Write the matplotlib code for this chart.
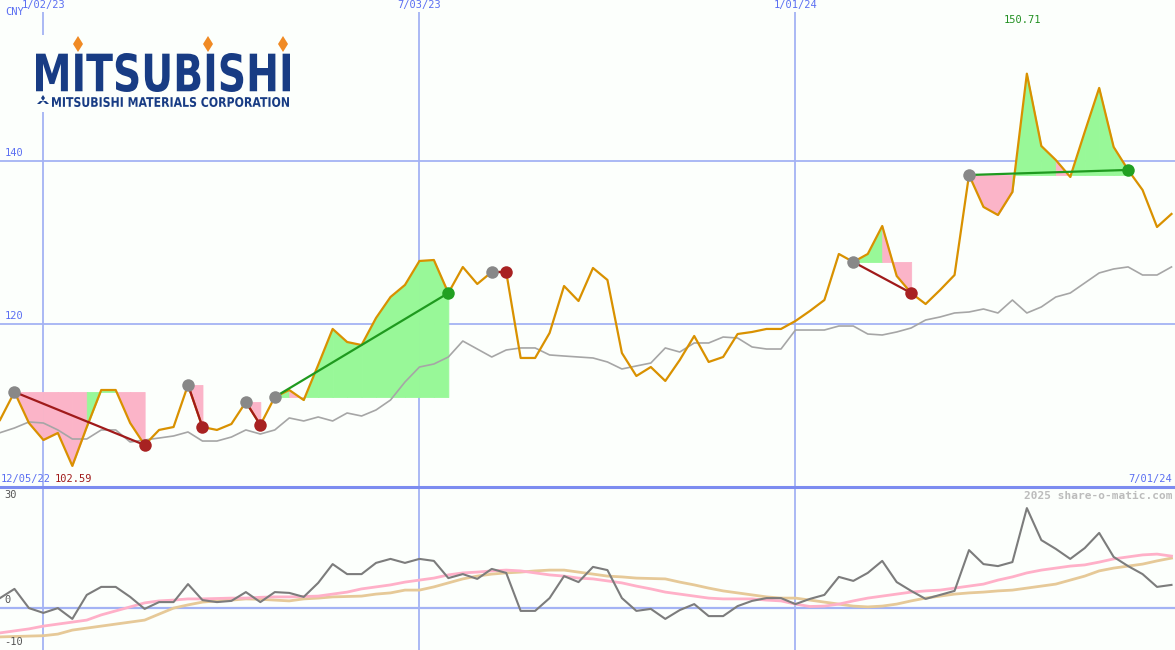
import numpy as np
import pandas as pd
import matplotlib
matplotlib.use('Agg')
import matplotlib.pyplot as plt
import matplotlib.transforms as mtrans
from matplotlib.textpath import TextPath
from matplotlib.font_manager import FontProperties
from matplotlib.patches import PathPatch, Polygon, Rectangle

# weekly closes, CNY
dates = pd.date_range('2022-12-12', periods=82, freq='7D')
price = [108.22, 111.66, 107.85, 105.77, 106.63, 102.59, 107.36, 111.90, 111.90, 107.85,
         105.15, 107.00, 107.36, 112.52, 107.36, 107.00, 107.73, 110.43, 107.61, 111.04,
         111.90, 110.67, 114.97, 119.39, 117.79, 117.42, 120.74, 123.31, 124.79, 127.73,
         127.85, 123.80, 126.99, 124.91, 126.38, 126.38, 115.83, 115.83, 118.90, 124.66,
         122.82, 126.87, 125.40, 116.44, 113.62, 114.72, 113.01, 115.58, 118.53, 115.34,
         115.95, 118.77, 119.02, 119.39, 119.39, 120.37, 121.60, 122.94, 128.59, 127.61,
         128.59, 132.02, 125.89, 123.80, 122.45, 124.17, 126.01, 138.28, 134.36, 133.37,
         136.20, 150.71, 141.84, 140.12, 138.04, 143.56, 148.96, 141.72, 138.90, 136.44,
         131.90, 133.50]
avg = [106.66, 107.24, 107.98, 107.85, 107.00, 105.89, 105.89, 107.00, 107.00, 105.52,
       105.77, 106.01, 106.26, 106.75, 105.64, 105.64, 106.13, 107.00, 106.50, 107.00,
       108.47, 108.10, 108.59, 108.10, 109.08, 108.71, 109.45, 110.67, 112.88, 114.72,
       115.09, 115.95, 117.91, 116.93, 115.95, 116.81, 117.06, 117.06, 116.20, 116.07,
       115.95, 115.83, 115.34, 114.48, 114.85, 115.21, 117.06, 116.56, 117.67, 117.67,
       118.40, 118.28, 117.18, 116.93, 116.93, 119.26, 119.26, 119.26, 119.75, 119.75,
       118.77, 118.65, 119.02, 119.51, 120.49, 120.86, 121.35, 121.47, 121.84, 121.35,
       122.94, 121.35, 122.09, 123.31, 123.80, 125.03, 126.26, 126.75, 127.00, 126.01,
       126.01, 127.00]

# lower panel oscillator
osc = [2.4, 4.7, -0.1, -1.3, -0.1, -2.8, 3.2, 5.2, 5.2, 2.7,
       -0.3, 1.4, 1.4, 5.9, 1.9, 1.4, 1.7, 3.9, 1.4, 3.9,
       3.7, 2.7, 6.2, 10.9, 8.4, 8.4, 11.2, 12.2, 11.2, 12.2,
       11.7, 7.4, 8.4, 7.2, 9.7, 8.7, -0.8, -0.8, 2.4, 7.9,
       6.4, 10.2, 9.4, 2.4, -0.8, -0.3, -2.8, -0.6, 0.9, -2.1,
       -2.1, 0.4, 1.7, 2.4, 2.4, 0.9, 2.2, 3.2, 7.7, 6.7,
       8.7, 11.7, 6.4, 4.2, 2.2, 3.2, 4.2, 14.4, 10.9, 10.4,
       11.4, 24.9, 16.9, 14.7, 12.2, 14.9, 18.7, 12.7, 10.4, 8.4,
       5.2, 5.7]
osc_fast = [-6.3, -5.8, -5.3, -4.6, -4.1, -3.6, -3.1, -1.8, -0.8, 0.2,
            1.2, 1.7, 1.9, 2.2, 2.2, 2.3, 2.4, 2.4, 2.6, 2.7,
            2.7, 2.8, 2.9, 3.4, 3.9, 4.7, 5.2, 5.7, 6.4, 6.9,
            7.4, 8.2, 8.7, 8.9, 9.2, 9.4, 9.2, 8.7, 8.2, 7.9,
            7.4, 7.2, 6.7, 6.2, 5.4, 4.7, 3.9, 3.4, 2.9, 2.4,
            2.2, 2.2, 2.2, 1.9, 1.7, 0.9, 0.3, 0.4, 0.9, 1.7,
            2.4, 2.9, 3.4, 3.9, 4.2, 4.4, 4.9, 5.4, 5.9, 6.9,
            7.7, 8.7, 9.4, 9.9, 10.4, 10.7, 11.4, 12.2, 12.7, 13.2,
            13.4, 12.9]
osc_slow = [-7.3, -7.2, -7.1, -7.0, -6.6, -5.6, -5.1, -4.6, -4.1, -3.6,
            -3.1, -1.6, -0.1, 0.7, 1.4, 1.7, 1.9, 2.2, 2.1, 1.9,
            1.7, 2.2, 2.4, 2.7, 2.8, 2.9, 3.4, 3.7, 4.4, 4.4,
            5.2, 6.2, 7.2, 7.9, 8.4, 8.7, 8.9, 9.2, 9.4, 9.4,
            8.9, 8.4, 7.9, 7.7, 7.4, 7.3, 7.2, 6.4, 5.7, 4.9,
            4.2, 3.7, 3.2, 2.7, 2.4, 2.4, 1.9, 1.4, 0.9, 0.4,
            0.2, 0.4, 0.9, 1.7, 2.4, 2.9, 3.4, 3.7, 3.9, 4.2,
            4.4, 4.9, 5.4, 5.9, 6.9, 7.9, 9.2, 9.9, 10.4, 10.9,
            11.7, 12.4]

# signals: (start week, end week, result)
signals = [(1, 10, 'down'), (13, 14, 'down'), (17, 18, 'down'), (19, 31, 'up'),
           (34, 35, 'down'), (59, 63, 'down'), (67, 78, 'up')]

grid_dates = ['2023-01-02', '2023-07-03', '2024-01-01']
grid_labels = ['1/02/23', '7/03/23', '1/01/24']

BG = '#fcfffc'
BLUE = '#5b6ff2'
GRID = '#a4b3f4'
ORANGE = '#d99100'
FS = 7.5

W, H = 1175, 650
fig = plt.figure(figsize=(W / 100, H / 100), dpi=100, facecolor=BG)
ax = fig.add_axes([0, 163 / H, 1, 487 / H])
ax2 = fig.add_axes([0, 0, 1, 163 / H])

x0 = pd.Timestamp('2022-12-12')
x1 = x0 + pd.Timedelta(days=568.7)
for a in (ax, ax2):
    a.set_facecolor(BG)
    a.set_xlim(x0, x1)
    a.set_xticks([])
    a.set_yticks([])
    for sp in a.spines.values():
        sp.set_visible(False)
    for d in grid_dates:
        a.axvline(pd.Timestamp(d), color=GRID, lw=1.3, zorder=0)

ax.set_ylim(100.0, 159.75)
ax2.set_ylim(-10.575, 30.175)
for v in (120, 140):
    ax.axhline(v, color=GRID, lw=1.3, zorder=0)
ax2.axhline(0, color=GRID, lw=1.6, zorder=0)

mono = 'DejaVu Sans Mono'
tr_top = mtrans.blended_transform_factory(ax.transData, ax.transAxes)
for d, lab in zip(grid_dates, grid_labels):
    ax.text(pd.Timestamp(d), 0.999, lab, transform=tr_top, ha='center', va='top',
            color=BLUE, fontsize=FS, family=mono, zorder=3,
            bbox=dict(facecolor=BG, edgecolor='none', pad=1.2))
tr_y = mtrans.blended_transform_factory(ax.transAxes, ax.transData)
for v in (120, 140):
    ax.text(0.004, v + 0.4, str(v), transform=tr_y, ha='left', va='bottom',
            color=BLUE, fontsize=FS, family=mono)

# shaded signal areas
for s, e, res in signals:
    lvl = price[s]
    for k in range(s, e):
        col = '#98f898' if price[k + 1] >= lvl else '#fbb4c8'
        ax.fill_between(dates[k:k + 2], price[k:k + 2], lvl, facecolor=col,
                        edgecolor=col, lw=0.6, zorder=1)

ax.plot(dates, avg, color='#a6a6a6', lw=1.2, zorder=2)
ax.plot(dates, price, color=ORANGE, lw=1.6, zorder=3)

for s, e, res in signals:
    c_line = '#1f9a1f' if res == 'up' else '#a01a1a'
    c_dot = '#22a022' if res == 'up' else '#a82222'
    ax.plot([dates[s], dates[e]], [price[s], price[e]], color=c_line, lw=1.6, zorder=4)
    ax.plot(dates[s], price[s], 'o', color='#888888', ms=9, mec='none', zorder=5)
    ax.plot(dates[e], price[e], 'o', color=c_dot, ms=9, mec='none', zorder=5)

ax2.plot(dates, osc_slow, color='#e6c998', lw=2, zorder=2)
ax2.plot(dates, osc_fast, color='#ffb0c8', lw=2, zorder=2)
ax2.plot(dates, osc, color='#7c7c7c', lw=1.5, zorder=3)

tr_y2 = mtrans.blended_transform_factory(ax2.transAxes, ax2.transData)
ax2.text(0.004, 29.4, '30', transform=tr_y2, ha='left', va='top', color='#555555',
         fontsize=FS, family=mono)
ax2.text(0.004, 0.6, '0', transform=tr_y2, ha='left', va='bottom', color='#555555',
         fontsize=FS, family=mono)
ax2.text(0.004, -9.8, '-10', transform=tr_y2, ha='left', va='bottom', color='#555555',
         fontsize=FS, family=mono)

# panel separator
fig.add_artist(plt.Line2D([0, 1], [163 / H, 163 / H], color='#7c8cf0', lw=2.2))


def px(x, y):
    return x / W, 1 - y / H


fig.text(*px(5, 12), 'CNY', color=BLUE, fontsize=FS, family=mono, va='center')
fig.text(*px(1, 479), '12/05/22', color=BLUE, fontsize=FS, family=mono, va='center')
fig.text(*px(55, 479), '102.59', color='#a01a1a', fontsize=FS, family=mono, va='center')
fig.text(*px(1172, 479), '7/01/24', color=BLUE, fontsize=FS, family=mono, va='center',
         ha='right')
fig.text(*px(1022, 20), '150.71', color='#229022', fontsize=FS, family=mono,
         va='center', ha='center')
fig.text(*px(1172, 496), '2025 share-o-matic.com', color='#bcbcbc', fontsize=8,
         family=mono, weight='bold', va='center', ha='right')

# logo
fig.add_artist(Rectangle(px(30, 112), 270 / W, 77 / H, transform=fig.transFigure,
                         facecolor=BG, edgecolor='none', zorder=4))
NAVY = '#183c84'


def fit_text(s, xa, xb, ya, yb, color):
    tp = TextPath((0, 0), s, size=10, prop=FontProperties(family='DejaVu Sans', weight='bold'))
    bb = tp.get_extents()
    sx = (xb - xa) / bb.width / W
    sy = (yb - ya) / bb.height / H
    t = mtrans.Affine2D().translate(-bb.x0, -bb.y0).scale(sx, sy).translate(xa / W, 1 - yb / H)
    fig.add_artist(PathPatch(tp, transform=t + fig.transFigure, facecolor=color,
                             edgecolor='none', zorder=5))


fit_text('MITSUBISHI', 36, 290, 53, 92, NAVY)
fit_text('MITSUBISHI MATERIALS CORPORATION', 52, 289, 97, 107, NAVY)
for cx in (78, 208, 283):
    pts = [px(cx, 36), px(cx + 5, 44), px(cx, 52), px(cx - 5, 44)]
    fig.add_artist(Polygon(pts, closed=True, transform=fig.transFigure,
                           facecolor='#f08a24', edgecolor='none', zorder=5))
for pts in ([(43, 95), (45, 98), (43, 101), (41, 98)],
            [(43, 101), (40, 101), (37, 104), (40, 104)],
            [(43, 101), (46, 101), (49, 104), (46, 104)]):
    fig.add_artist(Polygon([px(a, b) for a, b in pts], closed=True,
                           transform=fig.transFigure, facecolor=NAVY,
                           edgecolor='none', zorder=5))

fig.savefig('out.png', dpi=100, facecolor=BG)
